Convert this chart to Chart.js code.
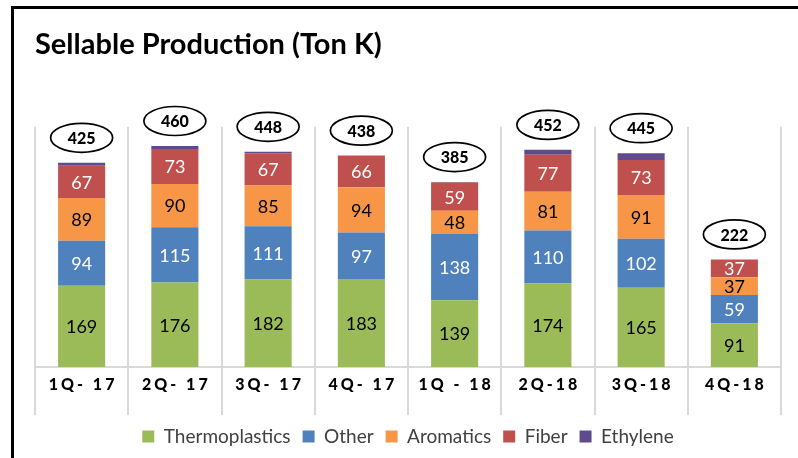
<!DOCTYPE html>
<html>
<head>
<meta charset="utf-8">
<script src="https://cdn.jsdelivr.net/npm/chart.js@4/dist/chart.umd.min.js"></script>
<style>
  html, body { margin: 0; padding: 0; background: #fff; overflow: hidden; }
  #wrap { position: relative; width: 798px; height: 458px; }
  #frame { position: absolute; left: 11px; top: 6px; width: 820px; height: 500px;
           border-left: 3px solid #000; border-top: 3px solid #000; }
  canvas { position: absolute; left: 0; top: 0; }
</style>
</head>
<body>
<div id="wrap">
  <div id="frame"></div>
  <canvas id="c" width="798" height="458"></canvas>
</div>
<script>
const categories = ["1Q- 17", "2Q- 17", "3Q- 17", "4Q- 17", "1Q - 18", "2Q-18", "3Q-18", "4Q-18"];
const thermoplastics = [169, 176, 182, 183, 139, 174, 165, 91];
const other          = [94, 115, 111, 97, 138, 110, 102, 59];
const aromatics      = [89, 90, 85, 94, 48, 81, 91, 37];
const fiber          = [67, 73, 67, 66, 59, 77, 73, 37];
const ethylene       = [6, 6, 3, 0, 1, 10, 14, 0];
const totals         = [425, 460, 448, 438, 385, 452, 445, 222];

const FONT = "Lato, 'Open Sans', 'DejaVu Sans', sans-serif";

const labelColors = ["#000000", "#ffffff", "#000000", "#ffffff", null];

const overlayPlugin = {
  id: 'overlay',
  afterDatasetsDraw(chart) {
    const ctx = chart.ctx;
    const xs = chart.scales.x;
    // segment value labels
    ctx.save();
    ctx.font = "18px " + FONT;
    ctx.textAlign = "center";
    ctx.textBaseline = "middle";
    chart.data.datasets.forEach((ds, di) => {
      const col = labelColors[di];
      if (!col) return;
      const meta = chart.getDatasetMeta(di);
      meta.data.forEach((bar, i) => {
        const v = ds.data[i];
        if (!v) return;
        ctx.fillStyle = col;
        ctx.fillText(String(v), bar.x, (bar.y + bar.base) / 2 + 1);
      });
    });
    ctx.restore();

    // total ellipses
    ctx.save();
    categories.forEach((c, i) => {
      let top = Infinity;
      chart.data.datasets.forEach((ds, di) => {
        const el = chart.getDatasetMeta(di).data[i];
        if (el && ds.data[i] > 0) top = Math.min(top, el.y);
      });
      const cx = xs.getPixelForValue(i);
      const cy = top - 25;
      ctx.beginPath();
      ctx.ellipse(cx, cy, 31, 14.5, 0, 0, Math.PI * 2);
      ctx.fillStyle = "#ffffff";
      ctx.fill();
      ctx.lineWidth = 1.7;
      ctx.strokeStyle = "#000000";
      ctx.stroke();
      ctx.fillStyle = "#000000";
      ctx.font = "900 16px " + FONT;
      ctx.textAlign = "center";
      ctx.textBaseline = "middle";
      ctx.fillText(String(totals[i]), cx, cy + 1);
    });
    ctx.restore();

    // category labels (letter-spaced, bold)
    ctx.save();
    const ls = 3;
    ctx.font = "900 16px " + FONT;
    try { ctx.letterSpacing = ls + "px"; } catch (e) {}
    ctx.fillStyle = "#000000";
    ctx.textAlign = "center";
    ctx.textBaseline = "middle";
    categories.forEach((c, i) => {
      const x = xs.getPixelForValue(i);
      ctx.fillText(c, x + ls / 2, xs.bottom - 30);
    });
    ctx.restore();
  }
};

new Chart(document.getElementById('c'), {
  type: 'bar',
  data: {
    labels: categories,
    datasets: [
      { label: 'Thermoplastics', data: thermoplastics, backgroundColor: '#9BBB59' },
      { label: 'Other', data: other, backgroundColor: '#4F81BD' },
      { label: 'Aromatics', data: aromatics, backgroundColor: '#F79646' },
      { label: 'Fiber', data: fiber, backgroundColor: '#C0504D' },
      { label: 'Ethylene', data: ethylene, backgroundColor: '#5F4B8B' }
    ]
  },
  options: {
    responsive: false,
    animation: false,
    devicePixelRatio: 1,
    layout: { padding: { left: 35, right: 17, top: 27, bottom: 2 } },
    datasets: { bar: { categoryPercentage: 1.0, barPercentage: 0.505, borderWidth: 0 } },
    scales: {
      x: {
        stacked: true,
        grid: { display: true, color: '#D9D9D9', lineWidth: 2, tickLength: 48, offset: true, drawOnChartArea: true },
        border: { display: true, color: '#D9D9D9', width: 2 },
        ticks: { display: false }
      },
      y: {
        stacked: true,
        display: false,
        min: 0,
        max: 500
      }
    },
    plugins: {
      title: {
        display: true,
        text: 'Sellable Production (Ton K)',
        align: 'start',
        color: '#000000',
        font: { family: FONT, size: 29, weight: 'bold' },
        padding: { top: 0, bottom: 65 }
      },
      legend: {
        display: true,
        position: 'bottom',
        labels: {
          boxWidth: 12,
          boxHeight: 12,
          padding: 12,
          color: '#404040',
          font: { family: FONT, size: 19 }
        }
      },
      tooltip: { enabled: false }
    }
  },
  plugins: [overlayPlugin]
});
</script>
</body>
</html>
